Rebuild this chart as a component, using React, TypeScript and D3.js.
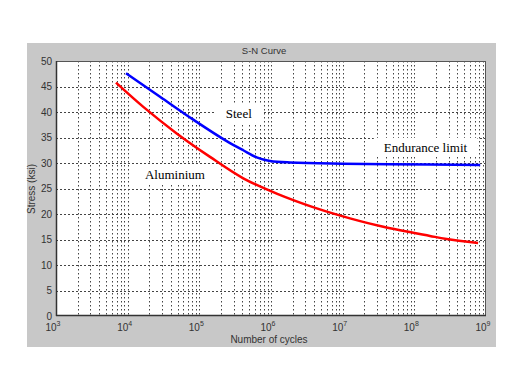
import React, { useEffect, useRef } from "react";
import * as d3 from "d3";

const titleText = "S-N Curve";
const xLabel = "Number of cycles";
const yLabel = "Stress (ksi)";

const xDecades = [3, 4, 5, 6, 7, 8, 9];
const yTicks = [0, 5, 10, 15, 20, 25, 30, 35, 40, 45, 50];

const steelCycles = [9480, 28250, 82400, 241000, 410000, 631000, 968000, 1.84e6, 1e7, 1.65e8, 8.3e8];
const steelStress = [47.6, 43.0, 38.5, 34.3, 32.5, 31.1, 30.4, 30.1, 29.85, 29.7, 29.6];

const aluCycles = [6870, 16520, 48300, 141000, 410000, 1.2e6, 4.35e6, 1.265e7, 3.69e7, 1.65e8, 2.82e8, 7.76e8];
const aluStress = [45.75, 41.0, 35.8, 31.2, 27.0, 24.0, 21.1, 19.15, 17.5, 15.7, 15.1, 14.3];

const annotations = [
  { text: "Steel", n: 3.55e5, s: 38.8 },
  { text: "Endurance limit", n: 1.43e8, s: 32.2 },
  { text: "Aluminium", n: 4.57e4, s: 26.9 },
];

export default function App() {
  const ref = useRef<SVGSVGElement | null>(null);

  useEffect(() => {
    const svg = d3.select(ref.current);
    svg.selectAll("*").remove();

    const W = 520, H = 390;
    const L = 56, R = 486, T = 61, B = 316;

    svg.append("rect").attr("x", 0).attr("y", 0).attr("width", W).attr("height", H).attr("fill", "#fff");
    svg.append("rect").attr("x", 27).attr("y", 43).attr("width", 469).attr("height", 304).attr("fill", "#c8c8c8");
    svg.append("rect").attr("x", L).attr("y", T).attr("width", R - L).attr("height", B - T).attr("fill", "#fff");

    const x = d3.scaleLog().domain([1e3, 1e9]).range([L, R]);
    const y = d3.scaleLinear().domain([0, 50]).range([B, T]);

    const grid = svg.append("g").attr("stroke", "#444").attr("stroke-width", 1).attr("stroke-dasharray", "1.5,2.5");
    for (let k = 3; k < 9; k++) {
      for (let m = 1; m <= 9; m++) {
        const v = m * Math.pow(10, k);
        if (m === 1 && k === 3) continue;
        const px = Math.round(x(v)) + 0.5;
        grid.append("line").attr("x1", px).attr("x2", px).attr("y1", T).attr("y2", B);
      }
    }
    yTicks.forEach((t) => {
      if (t === 0 || t === 50) return;
      const py = Math.round(y(t)) + 0.5;
      grid.append("line").attr("x1", L).attr("x2", R).attr("y1", py).attr("y2", py).attr("stroke-dasharray", "2,2");
    });

    const ann = svg.append("g");
    annotations.forEach((a) => {
      const g = ann.append("g");
      const t = g.append("text")
        .attr("x", x(a.n)).attr("y", y(a.s))
        .attr("text-anchor", "middle")
        .attr("font-family", "'Liberation Serif', 'Times New Roman', serif")
        .attr("font-size", 13).attr("fill", "#000").text(a.text);
      const bb = (t.node() as SVGTextElement).getBBox();
      g.insert("rect", "text")
        .attr("x", bb.x - 10).attr("y", bb.y - 2).attr("width", bb.width + 20).attr("height", bb.height + 4)
        .attr("fill", "#fff");
    });

    const steelLine = d3.line<[number, number]>().x((d) => x(d[0])).y((d) => y(d[1])).curve(d3.curveMonotoneX);
    const aluLine = d3.line<[number, number]>().x((d) => x(d[0])).y((d) => y(d[1])).curve(d3.curveCatmullRom.alpha(0.5));
    svg.append("path")
      .attr("d", steelLine(steelCycles.map((c, i) => [c, steelStress[i]] as [number, number])))
      .attr("fill", "none").attr("stroke", "#0000ff").attr("stroke-width", 2.5);
    svg.append("path")
      .attr("d", aluLine(aluCycles.map((c, i) => [c, aluStress[i]] as [number, number])))
      .attr("fill", "none").attr("stroke", "#ff0000").attr("stroke-width", 2.5);

    svg.append("rect").attr("x", L + 0.5).attr("y", T + 0.5).attr("width", R - L - 1).attr("height", B - T - 1)
      .attr("fill", "none").attr("stroke", "#555").attr("stroke-width", 1);
    svg.append("line").attr("x1", L).attr("x2", R).attr("y1", B - 0.5).attr("y2", B - 0.5).attr("stroke", "#333").attr("stroke-width", 1.5);
    svg.append("line").attr("x1", L + 0.5).attr("x2", L + 0.5).attr("y1", T).attr("y2", B).attr("stroke", "#333").attr("stroke-width", 1.5);

    const font = "'Liberation Sans', Arial, sans-serif";
    yTicks.forEach((t) => {
      svg.append("text").attr("x", L - 4).attr("y", y(t) + 3.5).attr("text-anchor", "end")
        .attr("font-family", font).attr("font-size", 10).attr("fill", "#333").text(String(t));
    });
    xDecades.forEach((k) => {
      const px = x(Math.pow(10, k));
      const t = svg.append("text").attr("x", px - 3).attr("y", B + 15).attr("text-anchor", "middle")
        .attr("font-family", font).attr("font-size", 10).attr("fill", "#333");
      t.append("tspan").text("10");
      t.append("tspan").attr("dy", -5).attr("font-size", 7).text(String(k));
    });

    svg.append("text").attr("x", 269).attr("y", 343).attr("text-anchor", "middle")
      .attr("font-family", font).attr("font-size", 10).attr("fill", "#333").text(xLabel);
    svg.append("text").attr("transform", "translate(35,189) rotate(-90)").attr("text-anchor", "middle")
      .attr("font-family", font).attr("font-size", 10).attr("fill", "#333").text(yLabel);
    svg.append("text").attr("x", 264).attr("y", 54).attr("text-anchor", "middle")
      .attr("font-family", font).attr("font-size", 9.5).attr("fill", "#333").text(titleText);
  }, []);

  return (
    <svg ref={ref} width={520} height={390} style={{ position: "absolute", left: 0, top: 0 }} />
  );
}
